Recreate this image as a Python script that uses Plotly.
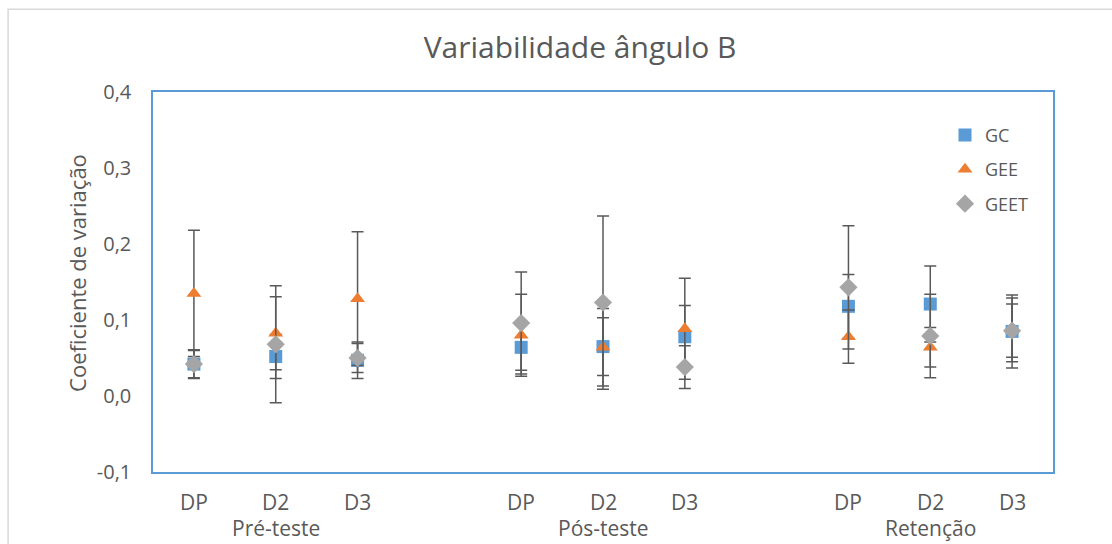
import plotly.graph_objects as go

# ---- data ----
groups = ["Pré-teste", "Pós-teste", "Retenção"]
cats = ["DP", "D2", "D3"]

gc = [0.042, 0.052, 0.047, 0.064, 0.065, 0.078, 0.118, 0.121, 0.085]
gc_err = [0.019, 0.029, 0.024, 0.030, 0.038, 0.041, 0.042, 0.050, 0.048]

gee = [0.135, 0.0825, 0.128, 0.080, 0.064, 0.0885, 0.078, 0.064, 0.087]
gee_err = [0.083, 0.048, 0.088, 0.054, 0.051, 0.0665, 0.035, 0.026, 0.042]

geet = [0.042, 0.068, 0.050, 0.096, 0.123, 0.038, 0.143, 0.079, 0.086]
geet_err = [0.018, 0.077, 0.019, 0.067, 0.114, 0.028, 0.081, 0.055, 0.035]

y_ticks = [-0.1, 0.0, 0.1, 0.2, 0.3, 0.4]
y_tick_text = ["-0,1", "0,0", "0,1", "0,2", "0,3", "0,4"]

# x positions: each group takes 3 slots + 1 empty slot
xs = [g * 4 + c + 1 for g in range(len(groups)) for c in range(len(cats))]
cat_labels = [c for g in groups for c in cats]
group_centers = [g * 4 + 2 for g in range(len(groups))]

TXT = "#595959"
FONT = "Open Sans"
ERR = dict(type="data", visible=True, color="#595959", thickness=1.5, width=6)

fig = go.Figure()
series = [
    ("GC", gc, gc_err, "square", "#5B9BD5", 13),
    ("GEE", gee, gee_err, "triangle-up", "#ED7D31", 13),
    ("GEET", geet, geet_err, "diamond", "#A5A5A5", 14),
]
for name, vals, errs, sym, col, sz in series:
    fig.add_trace(go.Scatter(
        x=xs, y=vals, mode="markers", name=name, legendgroup=name,
        marker=dict(symbol=sym, color=col, size=sz, line=dict(width=0)),
        error_y=dict(array=errs, **ERR),
    ))

annotations = []
for x, t in zip(xs, cat_labels):
    annotations.append(dict(x=x, y=-0.079, xref="x", yref="paper", text=t,
                            showarrow=False, yanchor="middle",
                            font=dict(family=FONT, size=21, color=TXT)))
for x, t in zip(group_centers, groups):
    annotations.append(dict(x=x, y=-0.148, xref="x", yref="paper", text=t,
                            showarrow=False, yanchor="middle",
                            font=dict(family=FONT, size=21, color=TXT)))
annotations.append(dict(x=-0.0844, y=0.524, xref="paper", yref="paper",
                        text="Coeficiente de variação", textangle=-90,
                        showarrow=False, xanchor="center", yanchor="middle",
                        font=dict(family=FONT, size=22, color=TXT)))

fig.update_layout(
    width=1112, height=544,
    margin=dict(l=153, r=59, t=92, b=72),
    paper_bgcolor="white", plot_bgcolor="white",
    title=dict(text="Variabilidade ângulo B", x=0.5216, xref="container",
               y=1 - 47 / 544, yref="container", xanchor="center", yanchor="middle",
               font=dict(family=FONT, size=30, color=TXT)),
    xaxis=dict(range=[0.5, 11.5], showgrid=False, zeroline=False,
               showticklabels=False, ticks="",
               showline=True, linecolor="#5B9BD5", linewidth=1.5, mirror=True),
    yaxis=dict(range=[-0.1, 0.4], tickvals=y_ticks, ticktext=y_tick_text,
               showgrid=False, zeroline=False,
               ticks="outside", ticklen=16, tickcolor="rgba(0,0,0,0)",
               tickfont=dict(family=FONT, size=20, color=TXT),
               showline=True, linecolor="#5B9BD5", linewidth=1.5, mirror=True),
    legend=dict(x=0.88, y=0.935, xanchor="left", yanchor="top",
                bgcolor="rgba(0,0,0,0)", tracegroupgap=8,
                font=dict(family=FONT, size=18, color=TXT)),
    annotations=annotations,
    shapes=[dict(type="rect", xref="paper", yref="paper",
                 x0=-0.161, x1=1.3, y0=-0.5, y1=1.218,
                 line=dict(color="#D9D9D9", width=1.5), layer="below")],
)

fig.write_html("out.html")
